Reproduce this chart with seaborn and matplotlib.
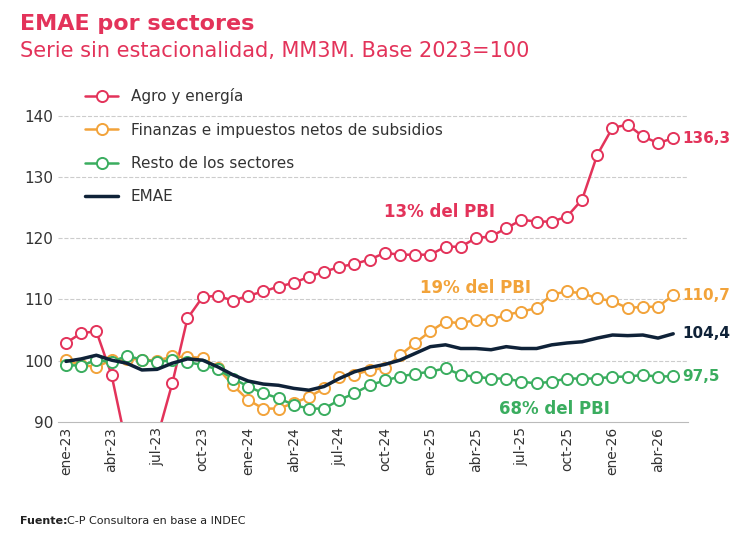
import numpy as np
import pandas as pd
import matplotlib
matplotlib.use("Agg")
import matplotlib.pyplot as plt
import seaborn as sns

meses = ["ene", "feb", "mar", "abr", "may", "jun", "jul", "ago", "sep", "oct", "nov", "dic"]
fechas = [f"{meses[i % 12]}-{23 + i // 12}" for i in range(41)]

agro = [102.9, 104.5, 104.8, 97.7, 86.0, 84.0, 87.4, 96.3, 106.9, 110.4, 110.6, 109.8,
        110.6, 111.3, 112.1, 112.7, 113.7, 114.5, 115.3, 115.8, 116.5, 117.6, 117.3, 117.3,
        117.3, 118.6, 118.6, 120.0, 120.3, 121.6, 123.0, 122.7, 122.7, 123.5, 126.3, 133.6,
        138.0, 138.5, 136.6, 135.5, 136.3]
finanzas = [100.1, 99.3, 99.0, 100.1, 100.3, 100.2, 100.0, 100.7, 100.6, 100.5, 98.8, 96.0,
            93.6, 92.2, 92.2, 93.1, 94.1, 95.5, 97.4, 97.7, 98.5, 98.8, 100.9, 102.9,
            104.8, 106.4, 106.1, 106.7, 106.7, 107.5, 108.0, 108.6, 110.8, 111.3, 111.0, 110.2,
            109.7, 108.6, 108.8, 108.8, 110.7]
resto = [99.3, 99.2, 100.1, 99.8, 100.8, 100.2, 99.8, 100.1, 99.8, 99.3, 98.6, 97.1,
         95.8, 94.7, 93.9, 92.8, 92.2, 92.2, 93.6, 94.7, 96.0, 96.8, 97.4, 97.9,
         98.2, 98.8, 97.7, 97.4, 97.1, 97.1, 96.6, 96.3, 96.6, 97.1, 97.1, 97.1,
         97.4, 97.4, 97.7, 97.4, 97.5]
emae = [99.9, 100.3, 100.9, 100.1, 99.6, 98.5, 98.6, 99.6, 100.3, 100.1, 99.0, 97.7,
        96.7, 96.2, 96.0, 95.5, 95.2, 95.8, 97.1, 98.2, 98.9, 99.4, 100.1, 101.2,
        102.3, 102.6, 102.0, 102.0, 101.8, 102.3, 102.0, 102.0, 102.6, 102.9, 103.1, 103.7,
        104.2, 104.1, 104.2, 103.7, 104.4]

rojo, naranja, verde, negro = "#e3335a", "#f2a33a", "#3aad5f", "#0f2238"

df = pd.DataFrame({"i": np.arange(41), "Agro y energía": agro,
                   "Finanzas e impuestos netos de subsidios": finanzas,
                   "Resto de los sectores": resto, "EMAE": emae})

fig = plt.figure(figsize=(7.3, 5.37), dpi=100)
ax = fig.add_axes([0.08, 0.214, 0.863, 0.628])
sns.set_style("white")

mk = dict(marker="o", markersize=8, markerfacecolor="white", markeredgewidth=1.4, linewidth=1.8)
for col, c in [("Agro y energía", rojo), ("Finanzas e impuestos netos de subsidios", naranja),
               ("Resto de los sectores", verde)]:
    sns.lineplot(data=df, x="i", y=col, ax=ax, color=c, markeredgecolor=c, label=col, **mk)
sns.lineplot(data=df, x="i", y="EMAE", ax=ax, color=negro, linewidth=2.5, label="EMAE")

ax.set_xlim(-0.5, 41)
ax.set_ylim(90, 145)
ax.set_yticks([90, 100, 110, 120, 130, 140])
ax.set_xticks(range(0, 41, 3))
ax.set_xticklabels([fechas[i] for i in range(0, 41, 3)], rotation=90, fontsize=10, color="#333333")
ax.tick_params(axis="y", labelsize=11, colors="#333333", length=0)
ax.tick_params(axis="x", length=0)
ax.set_xlabel("")
ax.set_ylabel("")
for y in [100, 110, 120, 130, 140]:
    ax.axhline(y, color="#cccccc", linestyle="--", linewidth=0.8, zorder=0)
for s in ["top", "right", "left"]:
    ax.spines[s].set_visible(False)
ax.spines["bottom"].set_color("#bbbbbb")

leg = ax.legend(loc="upper left", bbox_to_anchor=(0.02, 1.03), frameon=False, fontsize=11,
                labelspacing=1.2, handlelength=2.2)
for t in leg.get_texts():
    t.set_color("#333333")

ax.text(40.6, agro[-1], "136,3", color=rojo, fontsize=11, fontweight="bold", va="center")
ax.text(40.6, finanzas[-1], "110,7", color=naranja, fontsize=11, fontweight="bold", va="center")
ax.text(40.6, emae[-1], "104,4", color=negro, fontsize=11, fontweight="bold", va="center")
ax.text(40.6, resto[-1], "97,5", color=verde, fontsize=11, fontweight="bold", va="center")
ax.text(24.6, 123.5, "13% del PBI", color=rojo, fontsize=12, fontweight="bold", ha="center")
ax.text(27.0, 111.0, "19% del PBI", color=naranja, fontsize=12, fontweight="bold", ha="center")
ax.text(32.2, 91.3, "68% del PBI", color=verde, fontsize=12, fontweight="bold", ha="center")

fig.text(0.027, 0.945, "EMAE por sectores", color=rojo, fontsize=16, fontweight="bold")
fig.text(0.027, 0.893, "Serie sin estacionalidad, MM3M. Base 2023=100", color=rojo, fontsize=15)
fig.text(0.027, 0.025, "Fuente:", color="#222222", fontsize=8, fontweight="bold")
fig.text(0.092, 0.025, "C-P Consultora en base a INDEC", color="#222222", fontsize=8)

fig.savefig("out.png", dpi=100)
